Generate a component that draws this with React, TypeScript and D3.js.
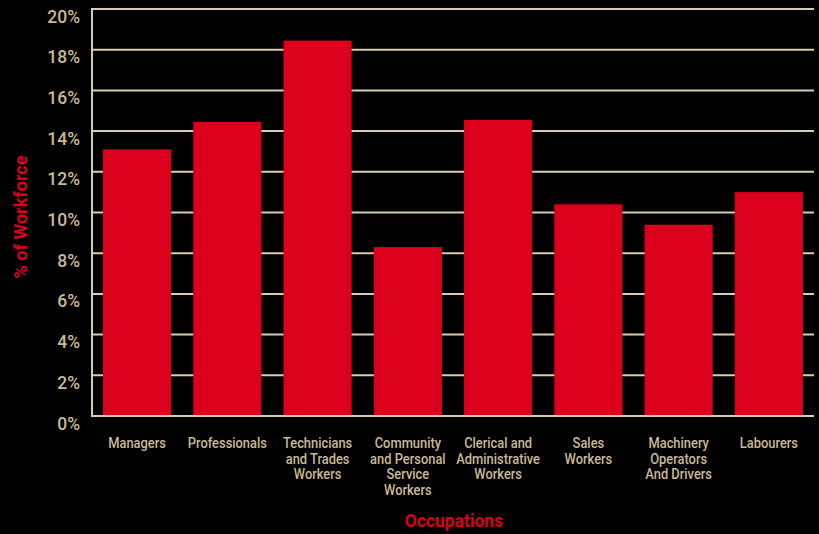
import React from "react";
import * as d3 from "d3";

const categories: string[][] = [
  ["Managers"],
  ["Professionals"],
  ["Technicians", "and Trades", "Workers"],
  ["Community", "and Personal", "Service", "Workers"],
  ["Clerical and", "Administrative", "Workers"],
  ["Sales", "Workers"],
  ["Machinery", "Operators", "And Drivers"],
  ["Labourers"],
];
const values: number[] = [13.1, 14.45, 18.45, 8.3, 14.55, 10.4, 9.4, 11.0];
const yTicks: number[] = [0, 2, 4, 6, 8, 10, 12, 14, 16, 18, 20];

const W = 819;
const H = 534;
const m = { left: 92, right: 5, top: 9, bottom: 118 };
const beige = "#c9b995";
const grid = "#d8cbb0";
const red = "#db001b";
const font = "Roboto, 'DejaVu Sans', sans-serif";

export default function App() {
  const x = d3
    .scaleBand<number>()
    .domain(d3.range(categories.length))
    .range([m.left, W - m.right])
    .paddingInner(0.245)
    .paddingOuter(0.122);
  const y = d3.scaleLinear().domain([0, 20]).range([H - m.bottom, m.top]);
  return (
    <svg
      width={W}
      height={H}
      style={{ position: "absolute", left: 0, top: 0, background: "#000" }}
    >
      <rect width={W} height={H} fill="#000" />
      {yTicks.map((t) => (
        <line
          key={"g" + t}
          x1={m.left}
          x2={W - m.right}
          y1={y(t)}
          y2={y(t)}
          stroke={grid}
          strokeWidth={2}
        />
      ))}
      {yTicks.map((t) => (
        <g key={"t" + t} transform={`translate(80,${y(t) + 13.5}) scale(0.97,1)`}>
          <text
            x={0}
            y={0}
            textAnchor="end"
            fill={beige}
            fontFamily={font}
            fontWeight={500}
            fontSize={18}
          >
            {t}%
          </text>
        </g>
      ))}
      <line
        x1={m.left}
        x2={m.left}
        y1={y(20) - 1}
        y2={y(0) + 1}
        stroke={grid}
        strokeWidth={2}
      />
      {values.map((v, i) => (
        <rect
          key={i}
          x={x(i)}
          width={x.bandwidth()}
          y={y(v)}
          height={y(0) - y(v) - 1}
          fill={red}
        />
      ))}
      {categories.map((lines, i) => (
        <g
          key={i}
          transform={`translate(${(x(i) as number) + x.bandwidth() / 2},448) scale(0.86,1)`}
        >
          <text
            textAnchor="middle"
            fill={beige}
            fontFamily={font}
            fontWeight={500}
            fontSize={15}
          >
            {lines.map((l, j) => (
              <tspan key={j} x={0} y={j * 15.7}>
                {l}
              </tspan>
            ))}
          </text>
        </g>
      ))}
      <g transform="translate(454,527) scale(0.97,1)">
        <text
          textAnchor="middle"
          fill={red}
          fontFamily={font}
          fontWeight="bold"
          fontSize={18}
        >
          Occupations
        </text>
      </g>
      <g transform="translate(27,217) rotate(-90) scale(1.0,1)">
        <text
          textAnchor="middle"
          fill={red}
          fontFamily={font}
          fontWeight="bold"
          fontSize={18}
        >
          % of Workforce
        </text>
      </g>
    </svg>
  );
}
